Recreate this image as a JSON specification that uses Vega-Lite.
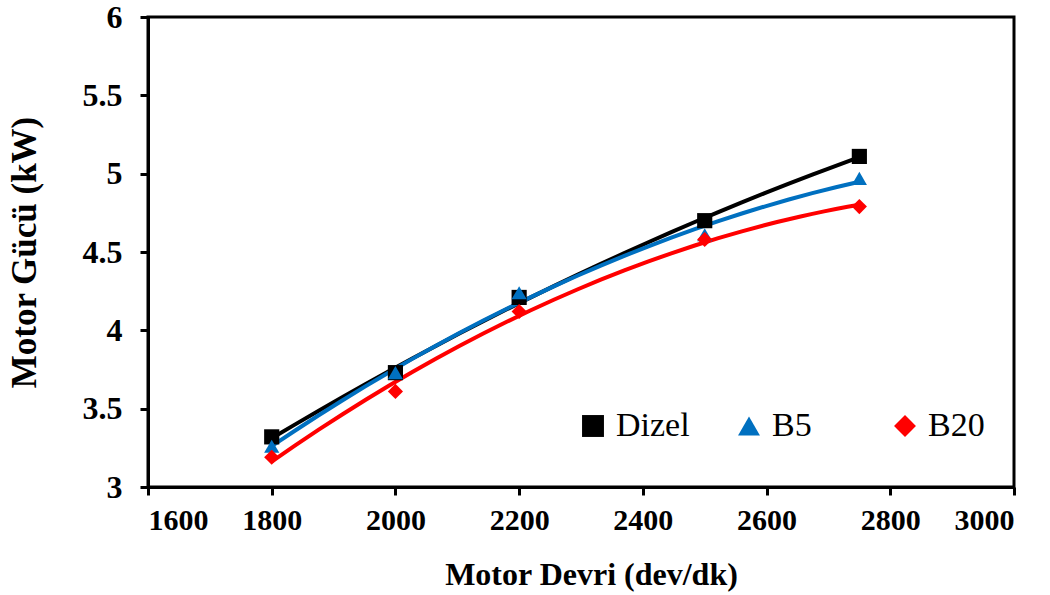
{
  "$schema": "https://vega.github.io/schema/vega-lite/v6.json",
  "width": 866,
  "height": 470,
  "autosize": "none",
  "padding": {"left": 148, "top": 17, "right": 36, "bottom": 108},
  "background": "white",
  "config": {
    "view": {"stroke": "black", "strokeWidth": 3},
    "font": "Liberation Serif",
    "axis": {
      "domainColor": "black", "domainWidth": 3, "tickColor": "black", "tickWidth": 3, "tickSize": 8,
      "grid": false, "labelFont": "Liberation Serif", "labelFontWeight": "bold", "labelColor": "black",
      "titleFont": "Liberation Serif", "titleFontWeight": "bold", "titleColor": "black"
    },
    "legend": {
      "title": null, "orient": "none", "direction": "horizontal", "columns": 3, "gridAlign": "all",
      "legendX": 428, "legendY": 392, "columnPadding": 42, "symbolSize": 480, "labelFontSize": 34,
      "labelFont": "Liberation Serif", "labelFontWeight": "normal", "labelColor": "black", "labelOffset": 6, "symbolStrokeWidth": 0
    }
  },
  "data": {
    "values": [
      {"rpm": 1800, "power": 3.32, "fuel": "Dizel"},
      {"rpm": 2000, "power": 3.73, "fuel": "Dizel"},
      {"rpm": 2200, "power": 4.21, "fuel": "Dizel"},
      {"rpm": 2500, "power": 4.70, "fuel": "Dizel"},
      {"rpm": 2750, "power": 5.11, "fuel": "Dizel"},
      {"rpm": 1800, "power": 3.26, "fuel": "B5"},
      {"rpm": 2000, "power": 3.73, "fuel": "B5"},
      {"rpm": 2200, "power": 4.24, "fuel": "B5"},
      {"rpm": 2500, "power": 4.61, "fuel": "B5"},
      {"rpm": 2750, "power": 4.97, "fuel": "B5"},
      {"rpm": 1800, "power": 3.19, "fuel": "B20"},
      {"rpm": 2000, "power": 3.61, "fuel": "B20"},
      {"rpm": 2200, "power": 4.12, "fuel": "B20"},
      {"rpm": 2500, "power": 4.58, "fuel": "B20"},
      {"rpm": 2750, "power": 4.79, "fuel": "B20"}
    ]
  },
  "layer": [
    {
      "transform": [{"regression": "power", "on": "rpm", "groupby": ["fuel"], "method": "poly", "order": 2}],
      "mark": {"type": "line", "strokeWidth": 4},
      "encoding": {
        "x": {"field": "rpm", "type": "quantitative"},
        "y": {"field": "power", "type": "quantitative"},
        "color": {
          "field": "fuel", "type": "nominal",
          "legend": {
            "encode": {"symbols": {"update": {"fill": {"signal": "datum.value === 'B5' ? '#0000FF' : datum.value === 'B20' ? '#FF0000' : '#000000'"}}}}
          }
        }
      }
    },
    {
      "mark": {"type": "point", "filled": true, "size": 230, "opacity": 1},
      "encoding": {
        "x": {
          "field": "rpm", "type": "quantitative",
          "scale": {"domain": [1600, 3000], "nice": false, "zero": false},
          "axis": {"values": [1600, 1800, 2000, 2200, 2400, 2600, 2800, 3000], "format": "d", "labelFontSize": 30, "labelPadding": 10, "title": "Motor Devri (dev/dk)", "titleFontSize": 32, "titlePadding": 24, "titleX": 443}
        },
        "y": {
          "field": "power", "type": "quantitative",
          "scale": {"domain": [3, 6], "nice": false, "zero": false},
          "axis": {"values": [3, 3.5, 4, 4.5, 5, 5.5, 6], "format": "~f", "labelFontSize": 32, "labelPadding": 18, "title": "Motor Gücü (kW)", "titleFontSize": 35, "titlePadding": 40}
        },
        "color": {
          "field": "fuel", "type": "nominal",
          "scale": {"domain": ["Dizel", "B5", "B20"], "range": ["#000000", "#0070C0", "#FF0000"]},
          "legend": {
            "encode": {"symbols": {"update": {"fill": {"signal": "datum.value === 'B5' ? '#0000FF' : datum.value === 'B20' ? '#FF0000' : '#000000'"}}}}
          }
        },
        "shape": {
          "field": "fuel", "type": "nominal",
          "scale": {"domain": ["Dizel", "B5", "B20"], "range": ["square", "triangle-up", "diamond"]},
          "legend": {
            "encode": {"symbols": {"update": {"fill": {"signal": "datum.value === 'B5' ? '#0000FF' : datum.value === 'B20' ? '#FF0000' : '#000000'"}}}}
          }
        }
      }
    }
  ]
}
